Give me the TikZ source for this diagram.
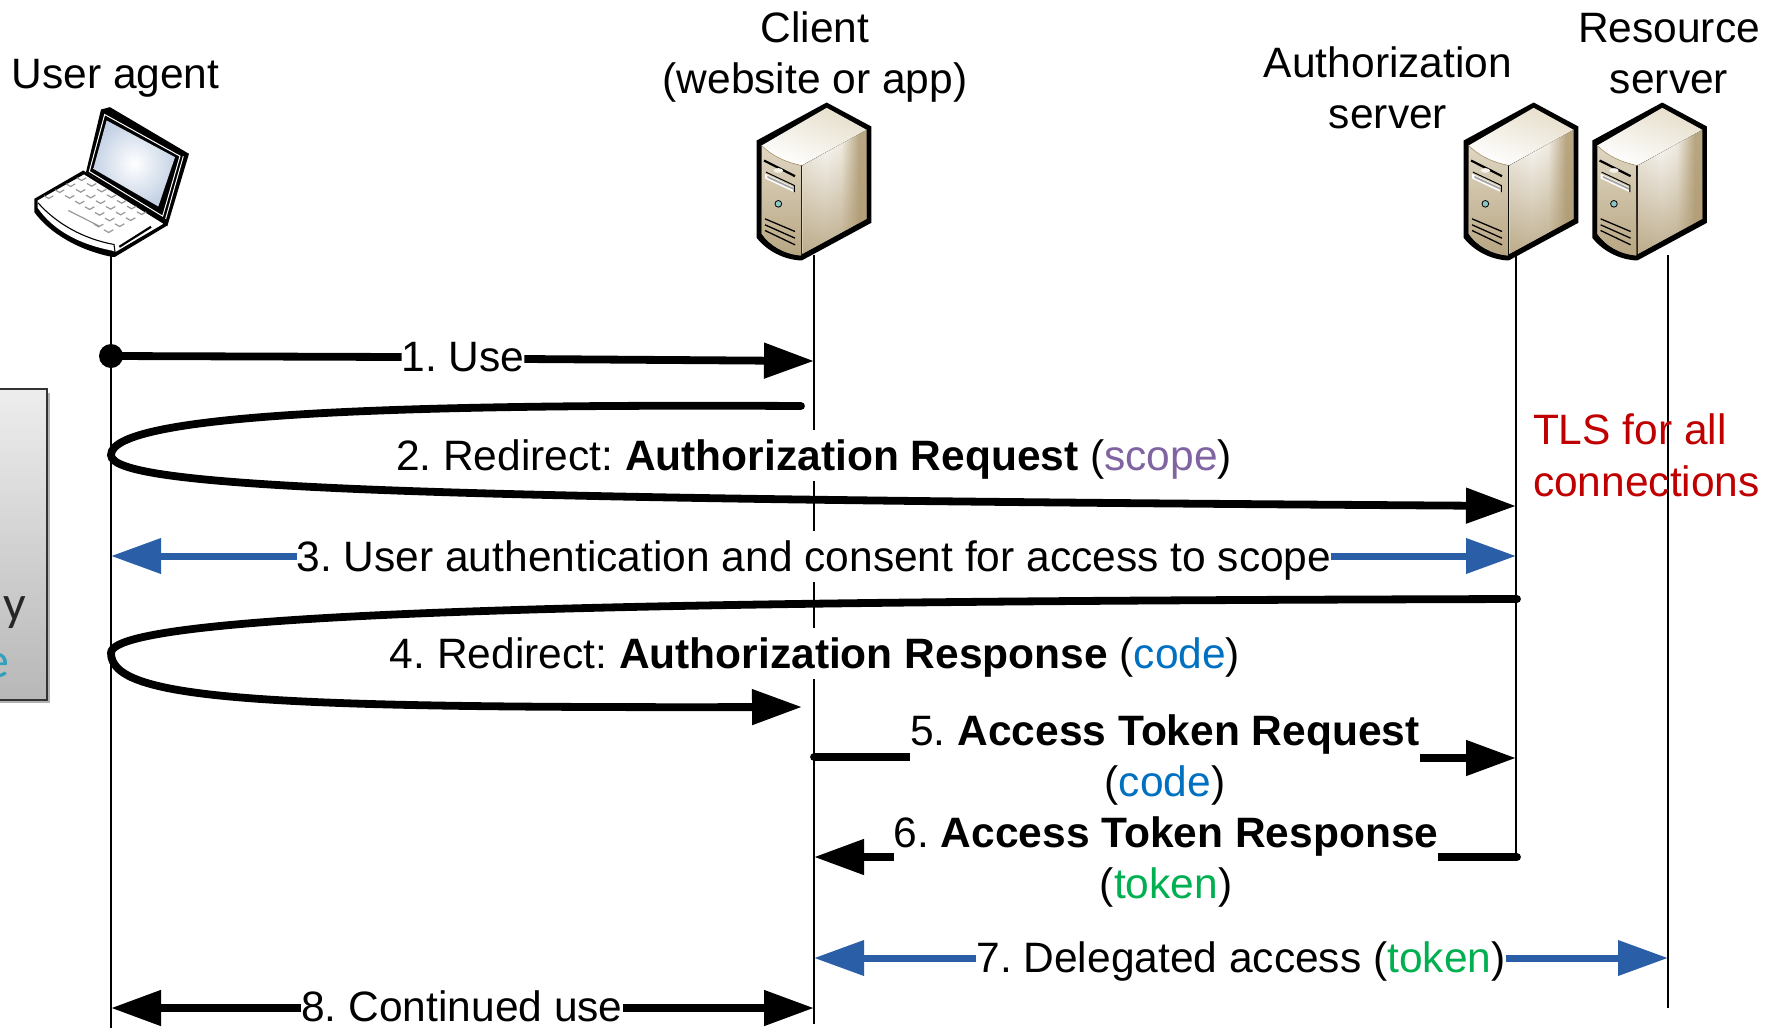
\documentclass[tikz,border=0pt]{standalone}
\usepackage{fontspec}
\setmainfont{Liberation Sans}
\newfontfamily\boxfont{Carlito}
\frenchspacing
\usetikzlibrary{arrows.meta,fadings,calc}
\definecolor{flowblue}{HTML}{2A5EA6}
\definecolor{scopepurple}{HTML}{8064A2}
\definecolor{codeblue}{HTML}{0070C0}
\definecolor{tokengreen}{HTML}{00B050}
\definecolor{tlsred}{HTML}{C00000}
\definecolor{boxteal}{HTML}{31A0BE}
\definecolor{srvtan}{HTML}{AE9A72}
\definecolor{srvbeige}{HTML}{E6DECB}
\definecolor{srvleft}{HTML}{E0D7C3}
\definecolor{srvmid}{HTML}{F6F3EC}
\definecolor{srvedge}{HTML}{B9A783}
\definecolor{screenedge}{HTML}{C5D2E5}
\tikzfading[name=srvfade,bottom color=transparent!0,middle color=transparent!100,top color=transparent!100]
\pgfdeclarehorizontalshading{srvrightshade}{100bp}{color(0bp)=(srvmid);color(25bp)=(srvmid);color(43bp)=(white);color(55bp)=(srvmid);color(69bp)=(srvedge);color(75bp)=(srvedge);color(100bp)=(srvedge)}
\tikzset{
  lifeline/.style={line width=1.8pt,black},
  msg/.style={line width=7.8pt,black},
  flowmsg/.style={line width=7pt,flowblue},
  msgtip/.tip={Triangle[length=50pt,width=34pt]},
  lbl/.style={font=\fontsize{42.5}{51}\selectfont,inner sep=0pt,outer sep=0pt,anchor=base},
  lblfill/.style={lbl,fill=white,text height=40pt,text depth=11pt},
  hdr/.style={font=\fontsize{42.5}{51}\selectfont,inner sep=0pt,outer sep=0pt,anchor=base},
  keymark/.style={line width=1.2pt,black!40},
  serverpic/.pic={
    \begin{scope}[x=0.3333pt,y=-0.3333pt]
      \fill[black,line join=round] (290,36) -- (424,108) -- (424,397) -- (215,510)
        .. controls (160,508) and (110,480) .. (80,442) -- (80,150) -- cycle;
      \shade[top color=srvbeige,bottom color=white,shading angle=-20]
        (290,52) -- (410,118) -- (215,225) .. controls (170,215) and (130,200) .. (95,165) -- cycle;
      \shade[left color=srvleft,middle color=srvmid,right color=srvleft]
        (95,165) .. controls (130,200) and (170,215) .. (213,225) -- (213,495)
        .. controls (160,490) and (120,465) .. (95,430) -- cycle;
      \fill[srvtan,path fading=srvfade,opacity=.8]
        (95,165) .. controls (130,200) and (170,215) .. (213,225) -- (213,495)
        .. controls (160,490) and (120,465) .. (95,430) -- cycle;
      \shade[shading=srvrightshade]
        (217,225) -- (410,118) -- (410,385) -- (217,490) -- cycle;
      \fill[srvtan,path fading=srvfade,opacity=.8]
        (217,225) -- (410,118) -- (410,385) -- (217,490) -- cycle;
      \draw[srvtan,line width=.6pt] (95,165) .. controls (130,200) and (170,215) .. (213,225);
      \draw[black,line width=2.2pt] (102,210) -- (195,257);
      \fill[srvmid] (145,240) ellipse (14 and 7);
      \fill[white] (105,250) -- (190,290) -- (190,304) -- (105,264) -- cycle;
      \fill[gray!70] (112,256) -- (190,292) -- (190,298) -- (112,262) -- cycle;
      \draw[black,line width=1pt] (108,245) -- (193,285) -- (193,305);
      \fill[teal!45!white,draw=black,line width=.8pt] (145,340) circle (10);
      \draw[black,line width=1.3pt] (105,385) -- (195,423) (105,403) -- (195,443) (105,420) -- (195,463);
    \end{scope}
  },
  laptoppic/.pic={
    \begin{scope}[x=0.3333pt,y=-0.3333pt]
      \fill[black,line join=round] (303,57) -- (330,50) -- (567,190) -- (502,407) -- (258,245) -- cycle;
      \draw[white,line width=1pt] (314,72) -- (540,197) -- (488,377) -- (268,243) -- cycle;
      \draw[white,line width=1pt] (550,197) -- (497,385);
      \shade[inner color=white,outer color=screenedge] (320,90) -- (525,200) -- (475,348) -- (280,235) -- cycle;
      \fill[black,line join=round] (103,325) -- (250,240) -- (502,405) -- (345,499) -- (335,499)
        .. controls (240,480) and (150,430) .. (103,365) -- cycle;
      \fill[white] (113,330) -- (252,252) -- (490,400) -- (347,484) -- (335,480)
        .. controls (240,462) and (160,420) .. (113,352) -- cycle;
      \draw[black,line width=1.1pt] (114,337) .. controls (170,400) and (250,445) .. (342,462) -- (345,484);
      \draw[black,line width=2.2pt] (358,469) -- (453,409);
      \foreach \j in {0,1,2}{\foreach \i in {0,...,6}{
        \draw[keymark] ($(245,270)+(\i*30-\j*33,\i*17+\j*18)$) +(-14,-8) -- +(0,0) -- +(14,-8);
      }}
      \foreach \i in {0,5,6}{
        \draw[keymark] ($(245,270)+(\i*30-99,\i*17+54)$) +(-14,-8) -- +(0,0) -- +(14,-8);
      }
      \draw[keymark] (205,360) -- (300,408);
    \end{scope}
  }
}
\begin{document}
\begin{tikzpicture}[x=1pt,y=-1pt]
\path[use as bounding box,clip] (0,0) rectangle (1768,1028);
\fill[white] (0,0) rectangle (1768,1028);

% clipped note box at the left
\fill[black!30] (-10,393) rectangle (50,703);
\shade[top color=black!7,bottom color=black!28,draw=black!80,line width=1.5pt] (-10,389) rectangle (47,700);
\node[font=\boxfont\fontsize{50}{56}\selectfont,inner sep=0pt,anchor=base east,text=black!85] (boxa) at (26,620) {y};
\node[font=\boxfont\fontsize{50}{56}\selectfont,inner sep=0pt,anchor=base east,text=boxteal] (boxb) at (10,677) {e};

% lifelines
\coordinate (uT) at (111,255); \coordinate (uB) at (111,1028);
\coordinate (cT) at (814,255); \coordinate (cB) at (814,1024);
\coordinate (aT) at (1516,255); \coordinate (aB) at (1516,857);
\coordinate (rT) at (1668,255); \coordinate (rB) at (1668,1008);
\draw[lifeline] (uT) -- (uB);
\draw[lifeline] (cT) -- (cB);
\draw[lifeline] (aT) -- (aB);
\draw[lifeline] (rT) -- (rB);

% icons
\pic at (0,90.5) {laptoppic};
\pic at (730,90.5) {serverpic};
\pic at (1437,90.5) {serverpic};
\pic at (1565.6,90.5) {serverpic};

% headers
\node[hdr] (hU) at (115.5,88) {User agent};
\node[hdr] (hC1) at (815,42) {Client};
\node[hdr] (hC2) at (815,93) {(website or app)};
\node[hdr] (hA1) at (1388,77) {Authorization};
\node[hdr] (hA2) at (1388,128) {server};
\node[hdr] (hR1) at (1669,42) {Resource};
\node[hdr] (hR2) at (1669,93) {server};
\node[hdr,text=tlsred,anchor=base west] (tls1) at (1533,444) {TLS for all};
\node[hdr,text=tlsred,anchor=base west] (tls2) at (1533,496) {connections};

% message labels
\node[lbl] (l1) at (463,371) {1. Use};
\node[lblfill] (l2) at (814,470) {2. Redirect: \textbf{Authorization Request} (\textcolor{scopepurple}{scope})};
\node[lblfill] (l3) at (814,571) {3. User authentication and consent for access to scope};
\node[lblfill] (l4) at (815,668) {4. Redirect: \textbf{Authorization Response} (\textcolor{codeblue}{code})};
\node[lbl] (l5) at (1165,745) {5. \textbf{Access Token Request}};
\node[lbl] (l5b) at (1165,796) {(\textcolor{codeblue}{code})};
\node[lbl] (l6) at (1166,847) {6. \textbf{Access Token Response}};
\node[lbl] (l6b) at (1166,898) {(\textcolor{tokengreen}{token})};
\node[lbl] (l7) at (1241,972) {7. Delegated access (\textcolor{tokengreen}{token})};
\node[lbl] (l8) at (462,1021) {8. Continued use};

% 1
\coordinate (m1s) at (111,356); \coordinate (m1e) at (814,361);
\fill (m1s) circle (12pt);
\draw[msg] (m1s) -- (l1.west |- 0,357);
\draw[msg,-msgtip] (l1.east |- 0,359) -- (m1e);
% 2
\coordinate (m2s) at (801,406); \coordinate (m2a) at (111,455); \coordinate (m2e) at (1516,506);
\draw[msg,line cap=round,-msgtip] (m2s) .. controls (420,404) and (111,412) .. (m2a)
  .. controls (111,490) and (450,499) .. (m2e);
% 3
\coordinate (m3s) at (111,556); \coordinate (m3e) at (1516,556);
\draw[flowmsg,-msgtip] (m3s -| l3.west) -- (m3s);
\draw[flowmsg,-msgtip] (m3e -| l3.east) -- (m3e);
% 4
\coordinate (m4s) at (1517,599); \coordinate (m4a) at (111,653); \coordinate (m4e) at (802,707);
\draw[msg,line cap=round,-msgtip] (m4s) .. controls (800,601) and (111,606) .. (m4a)
  .. controls (111,700) and (260,708) .. (m4e);
% 5
\coordinate (m5s) at (814,757); \coordinate (m5e) at (1516,758);
\fill (m5s) circle (3.9pt);
\draw[msg] (m5s) -- (m5s -| l5.west);
\draw[msg,-msgtip] (m5e -| l5.east) -- (m5e);
% 6
\coordinate (m6s) at (1517,857); \coordinate (m6e) at (814,857);
\fill (m6s) circle (3.9pt);
\draw[msg] (m6s) -- (m6s -| l6.east);
\draw[msg,-msgtip] (m6e -| l6.west) -- (m6e);
% 7
\coordinate (m7s) at (814,958); \coordinate (m7e) at (1668,958);
\draw[flowmsg,-msgtip] (m7s -| l7.west) -- (m7s);
\draw[flowmsg,-msgtip] (m7e -| l7.east) -- (m7e);
% 8
\coordinate (m8s) at (111,1008); \coordinate (m8e) at (814,1008);
\draw[msg,-msgtip] (m8s -| l8.west) -- (m8s);
\draw[msg,-msgtip] (m8e -| l8.east) -- (m8e);
\end{tikzpicture}
\end{document}
